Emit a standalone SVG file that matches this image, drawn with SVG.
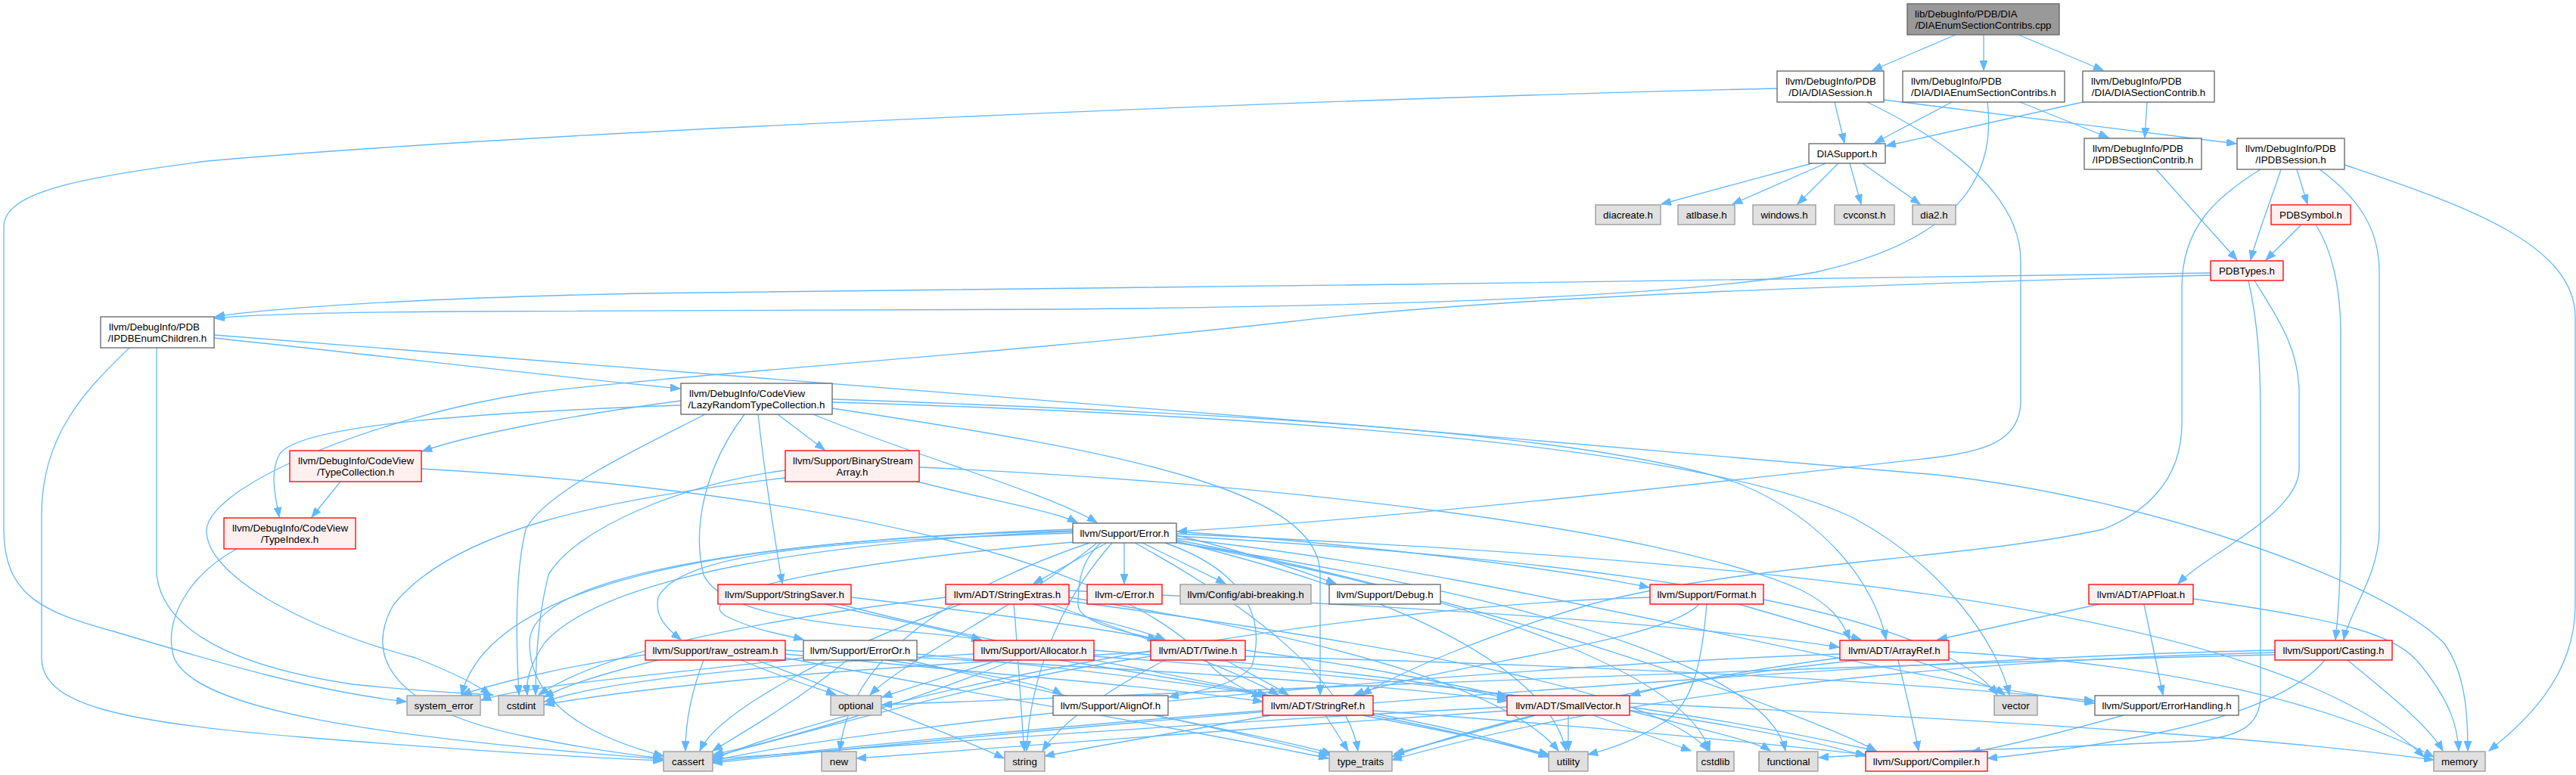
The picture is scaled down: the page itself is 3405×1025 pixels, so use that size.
<svg xmlns="http://www.w3.org/2000/svg" width="3405" height="1025" viewBox="0 0 3405 1025">
<style>
text{font-family:"Liberation Sans",Arial,Helvetica,sans-serif;font-size:13.33px;fill:#000}
.m{text-anchor:middle}
.s{text-anchor:start}
rect{stroke-width:1.33}
.w rect{fill:#fff;stroke:#666}
.r rect{fill:#fff0f0;stroke:#f00}
.g rect{fill:#e0e0e0;stroke:#999}
.k rect{fill:#999;stroke:#666}
#edges path{fill:none;stroke:#63b8ff;stroke-width:1.33;marker-end:url(#a)}
</style>
<defs>
<marker id="a" markerUnits="userSpaceOnUse" markerWidth="14" markerHeight="10" refX="13" refY="5" orient="auto">
<path d="M0,0L13,5L0,10z" fill="#63b8ff" stroke="#63b8ff"/>
</marker>
</defs>
<rect x="0" y="0" width="3405" height="1025" fill="#fff" stroke="none"/>
<g id="edges">
<path d="M2585,46 L2475,93"/>
<path d="M2622,46 L2622,93"/>
<path d="M2668,46 L2780,93"/>
<path d="M2425,135 L2438,189"/>
<path d="M2490,132 L2956,190"/>
<path d="M2468,135 C2530,165 2671,240 2671,345 L2671,530 C2671,585 2620,598 2550,606 C2250,640 1850,685 1556,703"/>
<path d="M2349,117 C1700,132 700,175 274,213 C100,235 5,255 5,300 L5,700 C5,790 60,810 150,835 C300,880 420,915 537,928"/>
<path d="M2580,135 L2478,189"/>
<path d="M2670,135 L2787,182"/>
<path d="M2627,135 C2640,240 2580,320 2400,360 C2200,395 1800,405 1400,409 L600,412 C450,413 330,416 284,421"/>
<path d="M2753,135 L2493,193"/>
<path d="M2838,135 L2835,182"/>
<path d="M2395,216 L2196,270"/>
<path d="M2413,216 L2290,270"/>
<path d="M2430,216 L2376,270"/>
<path d="M2445,216 L2460,270"/>
<path d="M2462,216 L2538,270"/>
<path d="M2850,224 L2957,344"/>
<path d="M3015,224 C3000,270 2982,315 2975,344"/>
<path d="M3036,224 L3050,270"/>
<path d="M3066,224 C3115,260 3145,300 3145,360 L3145,700 C3145,760 3105,810 3098,846"/>
<path d="M3099,218 C3250,270 3404,320 3404,420 L3404,800 C3404,900 3330,960 3290,993"/>
<path d="M2988,224 C2930,260 2884,300 2884,380 L2884,560 C2884,640 2830,680 2780,700 C2600,740 2300,745 2100,800 C1950,845 1850,890 1800,919"/>
<path d="M3042,297 L2995,344"/>
<path d="M3061,297 C3082,330 3094,380 3094,440 L3094,700 C3094,780 3090,820 3087,846"/>
<path d="M2922,361 C2400,374 1400,378 850,388 C550,394 350,408 284,419"/>
<path d="M2922,364 C2500,376 2000,390 1700,426 C1300,470 900,495 700,520 C500,550 280,640 273,700 C270,760 400,830 549,870 C600,890 630,905 648,919"/>
<path d="M2980,371 C3010,420 3039,460 3039,520 L3039,620 C3039,680 2920,730 2879,772"/>
<path d="M2972,371 C2985,430 2988,480 2988,560 L2988,920 C2988,960 2960,975 2900,980 C2700,990 2500,995 2404,1002"/>
<path d="M172,459 C120,510 55,570 55,680 L55,870 C55,930 150,955 400,975 C650,995 800,1003 876,1006"/>
<path d="M207,460 L207,760 C215,830 300,880 466,905 C560,915 620,917 652,919"/>
<path d="M283,447 C500,470 750,500 899,514"/>
<path d="M283,443 C900,490 1800,560 2560,628 C2850,660 3150,770 3230,850 C3260,890 3262,950 3262,993"/>
<path d="M900,530 C750,550 620,575 558,597"/>
<path d="M900,536 C650,545 400,560 370,600 C355,625 365,660 369,684"/>
<path d="M1028,548 L1090,595"/>
<path d="M1075,548 C1200,600 1380,650 1450,691"/>
<path d="M1002,548 C1010,620 1022,700 1034,772"/>
<path d="M932,548 C850,590 720,650 695,700 C680,760 682,850 686,919"/>
<path d="M984,548 C930,620 915,700 930,760 C960,830 1200,830 1297,846"/>
<path d="M1100,528 C1600,545 2100,570 2300,640 C2420,690 2480,780 2493,846"/>
<path d="M1100,532 C1700,550 2250,590 2450,685 C2570,750 2640,850 2656,919"/>
<path d="M1100,540 C1500,600 1745,650 1745,760 L1745,880 C1745,900 1745,910 1745,919"/>
<path d="M1215,618 C1700,640 2200,700 2380,780 C2420,800 2435,820 2445,846"/>
<path d="M1209,636 C1300,660 1390,675 1424,691"/>
<path d="M1038,622 C900,640 760,700 725,760 C710,820 708,880 708,919"/>
<path d="M1038,632 C800,660 600,700 520,800 C480,870 520,940 700,975 C800,995 850,1000 876,1003"/>
<path d="M450,637 L412,684"/>
<path d="M557,620 C1100,650 1500,750 1600,880 C1620,900 1645,912 1668,922"/>
<path d="M313,726 C250,760 215,820 230,870 C260,940 500,975 876,1004"/>
<path d="M1091,799 C1180,820 1260,835 1297,846"/>
<path d="M1125,790 C1300,810 1450,830 1530,846"/>
<path d="M1110,799 C1300,850 1550,890 1675,919"/>
<path d="M1413,781 C1800,800 2200,820 2431,856"/>
<path d="M1390,799 C1500,840 1620,880 1690,919"/>
<path d="M1366,799 C1430,815 1500,830 1540,846"/>
<path d="M1250,790 C1000,820 800,860 712,919"/>
<path d="M1270,799 C1100,860 950,940 925,993"/>
<path d="M1340,799 C1345,850 1350,950 1354,993"/>
<path d="M1413,790 C1800,850 2000,920 2060,993"/>
<path d="M1413,795 C1900,860 2200,920 2258,993"/>
<path d="M1038,860 C1400,880 1800,900 1992,927"/>
<path d="M1038,865 C1300,890 1550,910 1669,928"/>
<path d="M930,873 C912,920 906,960 906,993"/>
<path d="M870,873 C800,890 750,905 719,922"/>
<path d="M853,866 C750,880 650,905 610,919"/>
<path d="M980,873 C1030,895 1080,910 1105,919"/>
<path d="M1000,873 C1150,930 1280,980 1327,1003"/>
<path d="M1038,870 C1300,920 1600,970 1756,1003"/>
<path d="M1170,873 C1300,890 1380,905 1404,919"/>
<path d="M1120,873 C1050,930 980,970 942,993"/>
<path d="M1062,870 C900,890 700,905 636,926"/>
<path d="M1200,873 C1400,920 1650,970 1756,999"/>
<path d="M1212,865 C1600,900 1900,950 2047,1000"/>
<path d="M1320,873 C1250,895 1200,910 1166,922"/>
<path d="M1340,873 C1200,930 1050,975 943,998"/>
<path d="M1287,865 C1000,880 800,900 720,928"/>
<path d="M1446,868 C1900,900 2300,950 2466,1000"/>
<path d="M1446,860 C1700,880 1900,900 1992,924"/>
<path d="M1400,873 C1700,920 1950,970 2047,1001"/>
<path d="M1646,860 C1800,880 1920,905 1992,921"/>
<path d="M1620,873 C1650,890 1680,905 1703,919"/>
<path d="M1646,868 C2100,880 2500,900 2768,927"/>
<path d="M1521,868 C1300,900 1100,960 942,1001"/>
<path d="M1521,862 C1200,880 900,900 720,932"/>
<path d="M1540,873 C1450,920 1400,960 1378,993"/>
<path d="M2298,799 L2460,846"/>
<path d="M2246,799 C2200,850 1900,880 1790,919"/>
<path d="M2256,799 C2250,870 2240,930 2200,955 C2160,980 2130,990 2099,998"/>
<path d="M2181,790 C1800,800 1200,900 942,1004"/>
<path d="M2457,873 C2300,890 2200,905 2155,920"/>
<path d="M2509,873 C2520,920 2530,960 2536,993"/>
<path d="M2530,873 C2580,890 2630,905 2650,919"/>
<path d="M2576,862 C2900,880 3100,940 3217,1001"/>
<path d="M2432,865 C2000,880 1200,950 942,1006"/>
<path d="M2432,870 C2200,900 1950,960 1840,1001"/>
<path d="M3073,873 C3000,960 2750,990 2627,1003"/>
<path d="M3103,873 C3160,920 3210,960 3229,993"/>
<path d="M3007,860 C2500,870 1500,950 942,1009"/>
<path d="M3007,863 C2500,875 2100,930 1840,1005"/>
<path d="M3007,866 C2400,880 1500,920 1166,932"/>
<path d="M1752,946 L1782,993"/>
<path d="M1800,946 C1900,965 2000,985 2047,998"/>
<path d="M1815,940 C2100,960 2350,985 2466,998"/>
<path d="M1669,940 C1400,960 1100,990 942,1007"/>
<path d="M1680,946 C1550,970 1430,990 1381,1000"/>
<path d="M2073,946 L2073,993"/>
<path d="M2106,946 L2235,993"/>
<path d="M2030,946 L1843,997"/>
<path d="M2154,940 C2250,965 2320,980 2340,993"/>
<path d="M2154,935 C2300,955 2420,980 2480,993"/>
<path d="M2154,930 C2600,950 3000,975 3217,1005"/>
<path d="M1992,940 C1700,960 1300,990 1132,1003"/>
<path d="M1992,935 C1600,955 1200,985 942,1004"/>
<path d="M2775,799 L2561,846"/>
<path d="M2834,799 L2859,919"/>
<path d="M2899,792 C3100,820 3170,840 3200,880 C3240,930 3248,960 3250,993"/>
<path d="M2807,946 C2720,970 2660,985 2605,995"/>
<path d="M1525,946 C1620,965 1720,985 1760,997"/>
<path d="M1463,718 L1366,772"/>
<path d="M1486,718 L1486,772"/>
<path d="M1510,718 L1620,772"/>
<path d="M1555,708 C1650,730 1720,755 1766,772"/>
<path d="M1555,703 C1800,720 2050,750 2180,777"/>
<path d="M1418,705 C1100,715 900,730 870,790 C865,815 880,830 900,846"/>
<path d="M1430,716 C1150,740 900,780 960,815 C1000,835 1040,840 1062,846"/>
<path d="M1455,718 C1425,745 1425,780 1425,800 C1425,825 1500,838 1530,846"/>
<path d="M1540,718 C1660,760 1670,830 1655,880 C1640,905 1580,915 1545,922"/>
<path d="M1555,712 C2000,760 2400,880 2768,930"/>
<path d="M1555,714 C2000,800 2400,950 2480,993"/>
<path d="M1418,700 C1000,715 700,760 700,850 C700,940 800,980 877,1000"/>
<path d="M1418,703 C1100,715 800,760 720,850 C700,880 695,900 697,919"/>
<path d="M1418,702 C1000,712 650,760 610,919"/>
<path d="M1450,718 C1350,800 1200,870 1150,919"/>
<path d="M1440,718 C1200,800 1120,900 1110,993"/>
<path d="M1470,718 C1380,820 1360,930 1357,993"/>
<path d="M1500,718 C1650,800 1780,900 1795,993"/>
<path d="M1555,716 C1900,800 2050,900 2070,993"/>
<path d="M1555,717 C2000,800 2230,900 2260,993"/>
<path d="M1555,718 C2100,800 2340,900 2360,993"/>
<path d="M1555,706 C2300,740 3000,800 3204,1001"/>
<path d="M1555,709 C2100,740 2550,800 2640,919"/>
</g>
<g id="n0" class="k"><rect x="2521" y="5" width="201" height="41"/><text class="s" x="2531" y="23">lib/DebugInfo/PDB/DIA</text><text class="m" x="2621.5" y="38">/DIAEnumSectionContribs.cpp</text></g>
<g id="n1" class="w"><rect x="2349" y="94" width="141" height="41"/><text class="s" x="2360" y="112">llvm/DebugInfo/PDB</text><text class="m" x="2419.5" y="127">/DIA/DIASession.h</text></g>
<g id="n2" class="w"><rect x="2515" y="94" width="214" height="41"/><text class="s" x="2526" y="112">llvm/DebugInfo/PDB</text><text class="m" x="2622" y="127">/DIA/DIAEnumSectionContribs.h</text></g>
<g id="n3" class="w"><rect x="2753" y="94" width="174" height="41"/><text class="s" x="2764" y="112">llvm/DebugInfo/PDB</text><text class="m" x="2840" y="127">/DIA/DIASectionContrib.h</text></g>
<g id="n4" class="w"><rect x="2391" y="190" width="101" height="26"/><text class="m" x="2441.5" y="207.5">DIASupport.h</text></g>
<g id="n5" class="g"><rect x="2109" y="271" width="86" height="26"/><text class="m" x="2152" y="288.5">diacreate.h</text></g>
<g id="n6" class="g"><rect x="2218" y="271" width="75" height="26"/><text class="m" x="2255.5" y="288.5">atlbase.h</text></g>
<g id="n7" class="g"><rect x="2317" y="271" width="83" height="26"/><text class="m" x="2358.5" y="288.5">windows.h</text></g>
<g id="n8" class="g"><rect x="2425" y="271" width="79" height="26"/><text class="m" x="2464.5" y="288.5">cvconst.h</text></g>
<g id="n9" class="g"><rect x="2528" y="271" width="57" height="26"/><text class="m" x="2556.5" y="288.5">dia2.h</text></g>
<g id="n10" class="w"><rect x="2755" y="183" width="155" height="41"/><text class="s" x="2766" y="201">llvm/DebugInfo/PDB</text><text class="m" x="2832.5" y="216">/IPDBSectionContrib.h</text></g>
<g id="n11" class="w"><rect x="2957" y="183" width="142" height="41"/><text class="s" x="2968" y="201">llvm/DebugInfo/PDB</text><text class="m" x="3028" y="216">/IPDBSession.h</text></g>
<g id="n12" class="r"><rect x="3002" y="271" width="105" height="26"/><text class="m" x="3054.5" y="288.5">PDBSymbol.h</text></g>
<g id="n13" class="r"><rect x="2922" y="345" width="96" height="26"/><text class="m" x="2970" y="362.5">PDBTypes.h</text></g>
<g id="n14" class="w"><rect x="133" y="419" width="150" height="41"/><text class="s" x="144" y="437">llvm/DebugInfo/PDB</text><text class="m" x="208" y="452">/IPDBEnumChildren.h</text></g>
<g id="n15" class="w"><rect x="900" y="507" width="200" height="41"/><text class="s" x="911" y="525">llvm/DebugInfo/CodeView</text><text class="m" x="1000" y="540">/LazyRandomTypeCollection.h</text></g>
<g id="n16" class="r"><rect x="383" y="596" width="174" height="41"/><text class="s" x="394" y="614">llvm/DebugInfo/CodeView</text><text class="m" x="470" y="629">/TypeCollection.h</text></g>
<g id="n17" class="r"><rect x="1038" y="596" width="177" height="41"/><text class="s" x="1048" y="614">llvm/Support/BinaryStream</text><text class="m" x="1126.5" y="629">Array.h</text></g>
<g id="n18" class="r"><rect x="296" y="685" width="174" height="41"/><text class="s" x="307" y="703">llvm/DebugInfo/CodeView</text><text class="m" x="383" y="718">/TypeIndex.h</text></g>
<g id="n19" class="w"><rect x="1418" y="692" width="137" height="26"/><text class="m" x="1486.5" y="709.5">llvm/Support/Error.h</text></g>
<g id="n20" class="r"><rect x="949" y="773" width="176" height="26"/><text class="m" x="1037" y="790.5">llvm/Support/StringSaver.h</text></g>
<g id="n21" class="r"><rect x="1250" y="773" width="163" height="26"/><text class="m" x="1331.5" y="790.5">llvm/ADT/StringExtras.h</text></g>
<g id="n22" class="r"><rect x="1437" y="773" width="99" height="26"/><text class="m" x="1486.5" y="790.5">llvm-c/Error.h</text></g>
<g id="n23" class="g"><rect x="1560" y="773" width="173" height="26"/><text class="m" x="1646.5" y="790.5">llvm/Config/abi-breaking.h</text></g>
<g id="n24" class="w"><rect x="1757" y="773" width="147" height="26"/><text class="m" x="1830.5" y="790.5">llvm/Support/Debug.h</text></g>
<g id="n25" class="r"><rect x="2181" y="773" width="150" height="26"/><text class="m" x="2256" y="790.5">llvm/Support/Format.h</text></g>
<g id="n26" class="r"><rect x="2761" y="773" width="138" height="26"/><text class="m" x="2830" y="790.5">llvm/ADT/APFloat.h</text></g>
<g id="n27" class="r"><rect x="853" y="847" width="185" height="26"/><text class="m" x="945.5" y="864.5">llvm/Support/raw_ostream.h</text></g>
<g id="n28" class="w"><rect x="1062" y="847" width="150" height="26"/><text class="m" x="1137" y="864.5">llvm/Support/ErrorOr.h</text></g>
<g id="n29" class="r"><rect x="1287" y="847" width="159" height="26"/><text class="m" x="1366.5" y="864.5">llvm/Support/Allocator.h</text></g>
<g id="n30" class="r"><rect x="1521" y="847" width="125" height="26"/><text class="m" x="1583.5" y="864.5">llvm/ADT/Twine.h</text></g>
<g id="n31" class="r"><rect x="2432" y="847" width="144" height="26"/><text class="m" x="2504" y="864.5">llvm/ADT/ArrayRef.h</text></g>
<g id="n32" class="r"><rect x="3007" y="847" width="155" height="26"/><text class="m" x="3084.5" y="864.5">llvm/Support/Casting.h</text></g>
<g id="n33" class="g"><rect x="538" y="920" width="97" height="26"/><text class="m" x="586.5" y="937.5">system_error</text></g>
<g id="n34" class="g"><rect x="659" y="920" width="60" height="26"/><text class="m" x="689" y="937.5">cstdint</text></g>
<g id="n35" class="g"><rect x="1098" y="920" width="67" height="26"/><text class="m" x="1131.5" y="937.5">optional</text></g>
<g id="n36" class="w"><rect x="1392" y="920" width="152" height="26"/><text class="m" x="1468" y="937.5">llvm/Support/AlignOf.h</text></g>
<g id="n37" class="r"><rect x="1669" y="920" width="146" height="26"/><text class="m" x="1742" y="937.5">llvm/ADT/StringRef.h</text></g>
<g id="n38" class="r"><rect x="1992" y="920" width="162" height="26"/><text class="m" x="2073" y="937.5">llvm/ADT/SmallVector.h</text></g>
<g id="n39" class="g"><rect x="2636" y="920" width="57" height="26"/><text class="m" x="2664.5" y="937.5">vector</text></g>
<g id="n40" class="w"><rect x="2769" y="920" width="190" height="26"/><text class="m" x="2864" y="937.5">llvm/Support/ErrorHandling.h</text></g>
<g id="n41" class="g"><rect x="877" y="994" width="65" height="26"/><text class="m" x="909.5" y="1011.5">cassert</text></g>
<g id="n42" class="g"><rect x="1086" y="994" width="46" height="26"/><text class="m" x="1109" y="1011.5">new</text></g>
<g id="n43" class="g"><rect x="1328" y="994" width="53" height="26"/><text class="m" x="1354.5" y="1011.5">string</text></g>
<g id="n44" class="g"><rect x="1757" y="994" width="83" height="26"/><text class="m" x="1798.5" y="1011.5">type_traits</text></g>
<g id="n45" class="g"><rect x="2047" y="994" width="52" height="26"/><text class="m" x="2073" y="1011.5">utility</text></g>
<g id="n46" class="g"><rect x="2243" y="994" width="49" height="26"/><text class="m" x="2267.5" y="1011.5">cstdlib</text></g>
<g id="n47" class="g"><rect x="2325" y="994" width="78" height="26"/><text class="m" x="2364" y="1011.5">functional</text></g>
<g id="n48" class="r"><rect x="2466" y="994" width="161" height="26"/><text class="m" x="2546.5" y="1011.5">llvm/Support/Compiler.h</text></g>
<g id="n49" class="g"><rect x="3217" y="994" width="68" height="26"/><text class="m" x="3251" y="1011.5">memory</text></g>
</svg>
